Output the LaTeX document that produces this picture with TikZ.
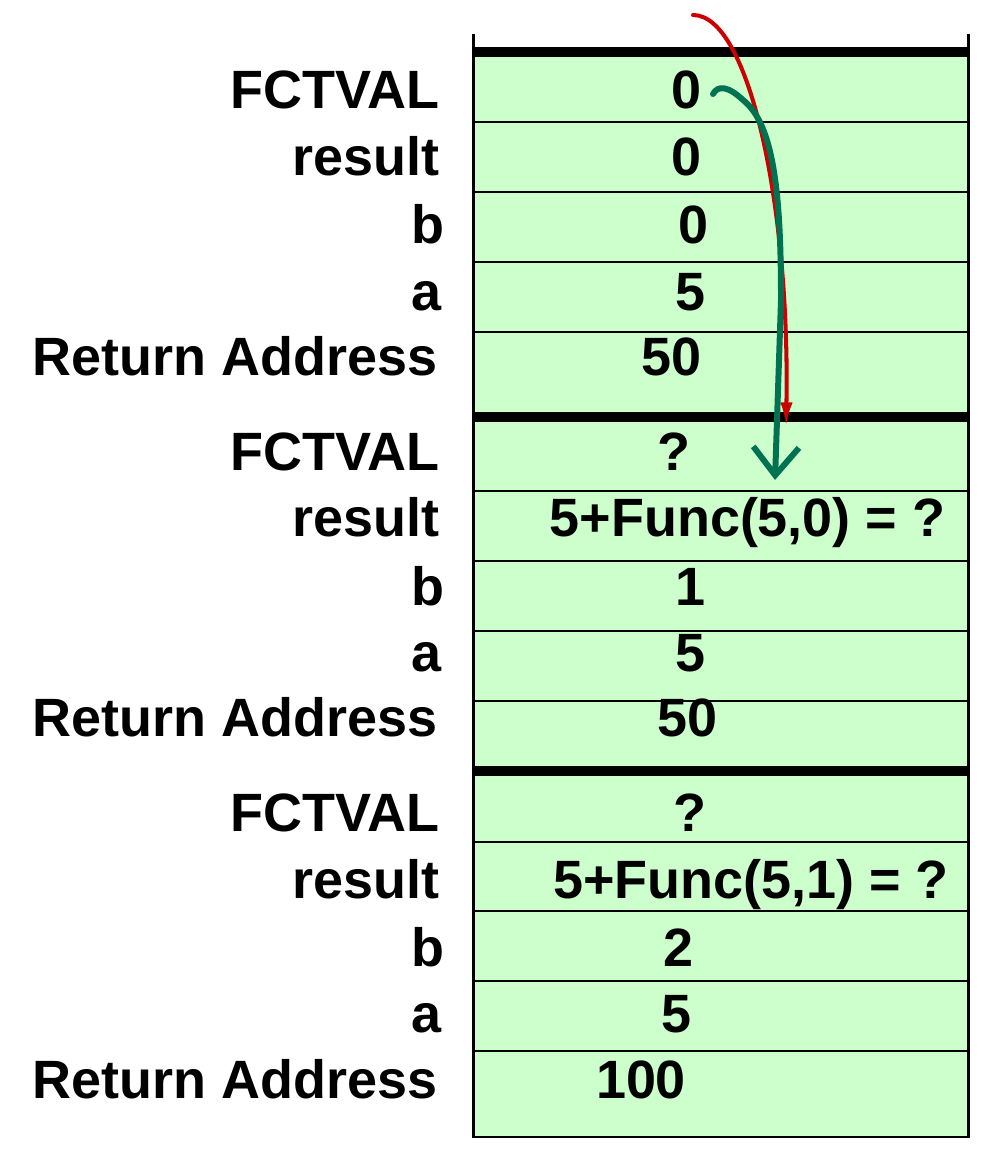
\documentclass[tikz,border=0pt]{standalone}
\usepackage{fontspec}
\setmainfont{Liberation Sans}
\usepackage{xcolor}
\usepackage{tikz}
\usetikzlibrary{arrows.meta}
\definecolor{cellgreen}{RGB}{204,255,204}
\definecolor{callred}{RGB}{204,0,0}
\definecolor{retgreen}{RGB}{0,114,82}
\tikzset{
  lbl/.style={anchor=base east, inner sep=0pt, font=\fontsize{30.7}{36}\selectfont\bfseries},
  val/.style={anchor=base, inner sep=0pt, font=\fontsize{30.7}{36}\selectfont\bfseries},
  cellline/.style={line width=1.4pt},
  framebar/.style={line width=6.2pt},
}

\begin{document}
\begin{tikzpicture}
  \useasboundingbox (0, 0) rectangle (20, 23.04);

  % Stack background and outline
  \fill[cellgreen] (9.47, 0.3) rectangle (19.36, 22.0);
  \draw[line width=1.7pt] (9.47, 22.36) -- (9.47, 0.3) -- (19.36, 0.3) -- (19.36, 22.36);

  % Frame bars
  \draw[framebar] (9.47, 22.0) -- (19.36, 22.0);
  \draw[framebar] (9.47, 14.7) -- (19.36, 14.7);
  \draw[framebar] (9.47, 7.62) -- (19.36, 7.62);

  % Cell separators
  \draw[cellline] (9.47, 20.6) -- (19.36, 20.6);
  \draw[cellline] (9.47, 19.2) -- (19.36, 19.2);
  \draw[cellline] (9.47, 17.8) -- (19.36, 17.8);
  \draw[cellline] (9.47, 16.4) -- (19.36, 16.4);
  \draw[cellline] (9.47, 13.22) -- (19.36, 13.22);
  \draw[cellline] (9.47, 11.82) -- (19.36, 11.82);
  \draw[cellline] (9.47, 10.42) -- (19.36, 10.42);
  \draw[cellline] (9.47, 9.02) -- (19.36, 9.02);
  \draw[cellline] (9.47, 6.2) -- (19.36, 6.2);
  \draw[cellline] (9.47, 4.82) -- (19.36, 4.82);
  \draw[cellline] (9.47, 3.42) -- (19.36, 3.42);
  \draw[cellline] (9.47, 2.02) -- (19.36, 2.02);

  % Frame 1
  \node[lbl] (fctval1) at (8.8, 20.86) {FCTVAL};
  \node[lbl] (result1) at (8.8, 19.52) {result};
  \node[lbl] (b1) at (8.9, 18.16) {b};
  \node[lbl] (a1) at (8.84, 16.82) {a};
  \node[lbl] (ret1) at (8.76, 15.52) {Return Address};
  \node[val] (fctvalval1) at (13.72, 20.86) {0};
  \node[val] (resultval1) at (13.72, 19.52) {0};
  \node[val] (bval1) at (13.87, 18.16) {0};
  \node[val] (aval1) at (13.81, 16.82) {5};
  \node[val] (retval1) at (13.43, 15.52) {50};

  % Frame 2
  \node[lbl] (fctval2) at (8.8, 13.62) {FCTVAL};
  \node[lbl] (result2) at (8.8, 12.3) {result};
  \node[lbl] (b2) at (8.9, 10.92) {b};
  \node[lbl] (a2) at (8.84, 9.6) {a};
  \node[lbl] (ret2) at (8.76, 8.3) {Return Address};
  \node[val] (fctvalval2) at (13.47, 13.62) {?};
  \node[val] (resultval2) at (14.95, 12.3) {5+Func(5,0) = ?};
  \node[val] (bval2) at (13.8, 10.92) {1};
  \node[val] (aval2) at (13.8, 9.6) {5};
  \node[val] (retval2) at (13.75, 8.3) {50};

  % Frame 3
  \node[lbl] (fctval3) at (8.8, 6.4) {FCTVAL};
  \node[lbl] (result3) at (8.8, 5.06) {result};
  \node[lbl] (b3) at (8.9, 3.7) {b};
  \node[lbl] (a3) at (8.84, 2.38) {a};
  \node[lbl] (ret3) at (8.76, 1.06) {Return Address};
  \node[val] (fctvalval3) at (13.79, 6.4) {?};
  \node[val] (resultval3) at (15.02, 5.06) {5+Func(5,1) = ?};
  \node[val] (bval3) at (13.56, 3.7) {2};
  \node[val] (aval3) at (13.52, 2.38) {5};
  \node[val] (retval3) at (12.82, 1.06) {100};

  % Hand-drawn arrows
  \coordinate (redstart) at (13.86, 22.74);
  \coordinate (redend) at (15.72, 14.5);
  \coordinate (greenstart) at (14.26, 21.16);
  \coordinate (greenbend) at (14.86, 21.04);
  \coordinate (greenend) at (15.5, 13.44);
  \draw[callred, line width=2.3pt, line cap=round, -{Latex[length=14pt, width=7pt]}]
    (redstart) .. controls (15.0, 22.74) and (15.8, 18.84) .. (redend);
  \draw[retgreen, line width=3.4pt, line cap=round, line join=round, -{Straight Barb[length=16pt, width=26pt]}]
    (greenstart) .. controls (14.36, 21.34) and (14.56, 21.32) .. (greenbend)
    .. controls (15.5, 20.54) and (15.62, 19.04) .. (15.62, 17.04) -- (greenend);

\end{tikzpicture}
\end{document}
